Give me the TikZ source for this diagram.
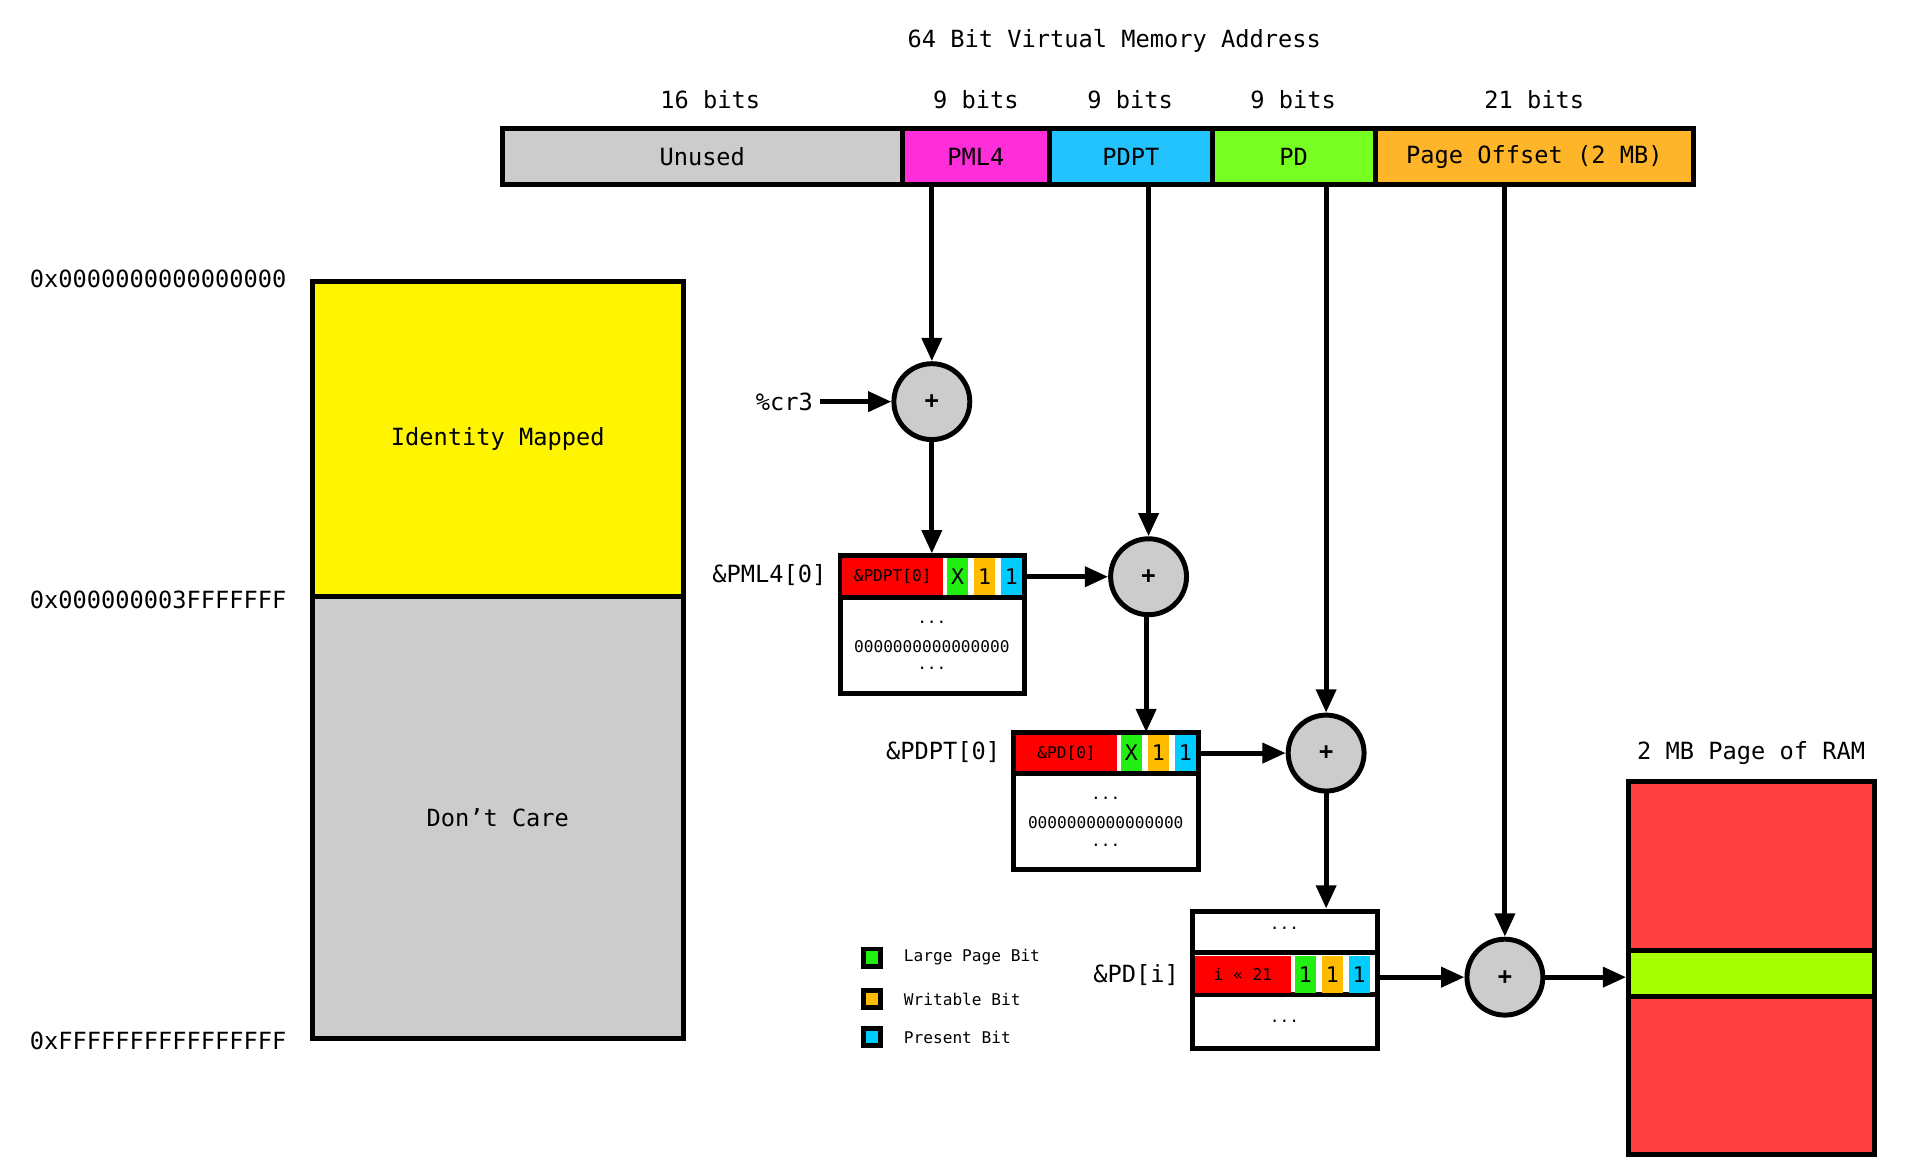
\documentclass[tikz,border=0pt]{standalone}
\usepackage{fontspec}
\setmainfont{DejaVu Sans Mono}
\usetikzlibrary{arrows.meta, positioning}
\definecolor{c-unused}{HTML}{CCCCCC}
\definecolor{c-pml4}{HTML}{FF2ED8}
\definecolor{c-pdpt}{HTML}{22C3FF}
\definecolor{c-pd}{HTML}{77FF22}
\definecolor{c-off}{HTML}{FFB52A}
\definecolor{c-ident}{HTML}{FFF500}
\definecolor{c-red}{HTML}{FF0000}
\definecolor{c-ram}{HTML}{FF4040}
\definecolor{c-band}{HTML}{A8FF00}
\definecolor{bit-l}{HTML}{22EE11}
\definecolor{bit-w}{HTML}{FFBB00}
\definecolor{bit-p}{HTML}{00CCFF}
\tikzset{
  field/.style={draw, line width=2.3pt, inner sep=0pt, minimum height=0.92cm, font=\fontsize{11}{13}\selectfont},
  adder/.style={circle, draw, line width=2.3pt, fill=c-unused, minimum size=1.24cm, inner sep=0pt, font=\fontsize{11}{13}\selectfont\bfseries},
  table/.style={draw, line width=2.3pt, fill=white, inner sep=0pt, minimum width=3.02cm, minimum height=2.24cm},
  bit/.style={inner sep=0pt, minimum width=0.34cm, minimum height=0.6cm, font=\fontsize{10}{12}\selectfont},
  tiny/.style={font=\fontsize{7.5}{9}\selectfont},
  lbl/.style={font=\fontsize{11}{13}\selectfont},
  flow/.style={line width=2.3pt, -{Triangle[length=0.38cm, width=0.32cm]}}
}
\begin{document}
\begin{tikzpicture}[x=0.02cm, y=-0.02cm]
\useasboundingbox (0,0) rectangle (1568,960);
% address fields
\node[lbl] (title) at (910,33) {64 Bit Virtual Memory Address};
\node[field, fill=c-unused, minimum width=6.54cm] (unused) at (573.5,128) {Unused};
\node[field, fill=c-pml4, minimum width=2.4cm] (pml4) at (797,128) {PML4};
\node[field, fill=c-pdpt, minimum width=2.66cm] (pdpt) at (923.5,128) {PDPT};
\node[field, fill=c-pd, minimum width=2.66cm] (pd) at (1056.5,128) {PD};
\node[field, fill=c-off, minimum width=5.2cm] (off) at (1253,128) {Page Offset (2 MB)};
\node[lbl] at (580,81) {16 bits};
\node[lbl] at (797,81) {9 bits};
\node[lbl] at (923,81) {9 bits};
\node[lbl] at (1056,81) {9 bits};
\node[lbl] at (1253,81) {21 bits};
% memory
\node[field, fill=c-ident, minimum width=6.06cm, minimum height=5.14cm] (ident) at (406.5,358.5) {Identity Mapped};
\node[field, fill=c-unused, minimum width=6.06cm, minimum height=7.22cm] (care) at (406.5,667.5) {Don’t Care};
\node[lbl, anchor=east] at (240,228) {0x0000000000000000};
\node[lbl, anchor=east] at (240,490) {0x000000003FFFFFFF};
\node[lbl, anchor=east] at (240,850) {0xFFFFFFFFFFFFFFFF};
% adders
\node[adder] (a1) at (761,328) {+};
\node[adder] (a2) at (938,471) {+};
\node[adder] (a3) at (1083,615) {+};
\node[adder] (a4) at (1229,798) {+};
\node[lbl, anchor=east] (cr3) at (670,328) {\%cr3};
% PML4 table
\node[table] (t1) at (761.5,510) {};
\draw[line width=2.3pt] (686,488) -- (837,488);
\node[bit, fill=c-red, minimum width=1.64cm, tiny, text=black] at (729,471) {\&PDPT[0]};
\node[bit, fill=bit-l] at (782,471) {X};
\node[bit, fill=bit-w] at (804,471) {1};
\node[bit, fill=bit-p] at (826,471) {1};
\node[tiny] at (761,508) {...};
\node[tiny] at (761,528) {0000000000000000};
\node[tiny] at (761,546) {...};
\node[lbl, anchor=east] at (681,470) {\&PML4[0]};
% PDPT table
\node[table] (t2) at (903.5,654) {};
\draw[line width=2.3pt] (828,632) -- (979,632);
\node[bit, fill=c-red, minimum width=1.64cm, tiny] at (871,615) {\&PD[0]};
\node[bit, fill=bit-l] at (924,615) {X};
\node[bit, fill=bit-w] at (946,615) {1};
\node[bit, fill=bit-p] at (968,615) {1};
\node[tiny] at (903,652) {...};
\node[tiny] at (903,672) {0000000000000000};
\node[tiny] at (903,690) {...};
\node[lbl, anchor=east] at (823,614) {\&PDPT[0]};
% PD table
\node[table] (t3) at (1049.5,800) {};
\draw[line width=2.3pt] (974,778) -- (1125,778) (974,812) -- (1125,812);
\node[bit, fill=c-red, minimum width=1.56cm, tiny] at (1015,796) {i « 21};
\node[bit, fill=bit-l] at (1066,796) {1};
\node[bit, fill=bit-w] at (1088,796) {1};
\node[bit, fill=bit-p] at (1110,796) {1};
\node[tiny] at (1049,758) {...};
\node[tiny] at (1049,834) {...};
\node[lbl, anchor=east] at (969,796) {\&PD[i]};
% legend
\foreach \y/\c/\t in {782/bit-l/Large Page Bit, 816/bit-w/Writable Bit, 847/bit-p/Present Bit} {
  \draw[line width=2.3pt, fill=\c] (705,\y-7) rectangle (719,\y+7);
  \node[tiny, anchor=west] at (732,\y) {\t};
}
% RAM
\node[lbl] (ramt) at (1430,615) {2 MB Page of RAM};
\node[field, fill=c-ram, minimum width=4.02cm, minimum height=6.1cm] (ram) at (1430.5,790.5) {};
\node[field, fill=c-band, minimum width=4.02cm, minimum height=0.76cm] (band) at (1430.5,795) {};
% connectors
\draw[flow] (pml4.south -| a1) -- (a1);
\draw[flow] (cr3) -- (a1);
\draw[flow] (a1) -- (a1 |- t1.north);
\draw[flow] (pdpt.south -| a2) -- (a2);
\draw[flow] (t1.east |- a2) -- (a2);
\draw[flow] (a2.south -| 936,0) -- (936,598);
\draw[flow] (pd.south -| a3) -- (a3);
\draw[flow] (t2.east |- a3) -- (a3);
\draw[flow] (a3) -- (a3 |- t3.north);
\draw[flow] (off.south -| a4) -- (a4);
\draw[flow] (t3.east |- a4) -- (a4);
\draw[flow] (a4) -- (ram.west |- a4);
\end{tikzpicture}
\end{document}
